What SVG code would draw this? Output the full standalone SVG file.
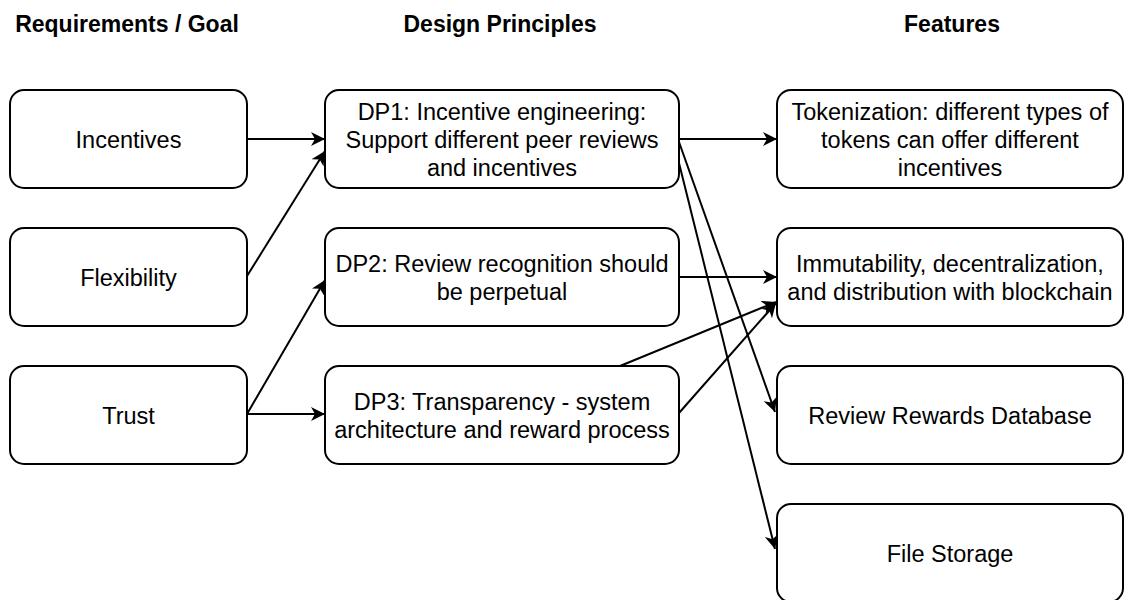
<svg xmlns="http://www.w3.org/2000/svg" width="1125" height="600" viewBox="0 0 1125 600">
<style>
.box{fill:#fff;stroke:#000;stroke-width:2}
.t{font-family:"Liberation Sans",Arial,sans-serif;font-size:23.5px;fill:#000;text-anchor:middle}
.h{font-family:"Liberation Sans",Arial,sans-serif;font-size:23px;font-weight:bold;fill:#000;text-anchor:middle}
.e{fill:none;stroke:#000;stroke-width:2;marker-end:url(#arr)}
</style>
<defs>
<marker id="arr" markerUnits="userSpaceOnUse" markerWidth="16" markerHeight="16" refX="14" refY="7" orient="auto" viewBox="0 0 16 16">
<path d="M0,0 L14,7 L0,14 L4,7 Z" fill="#000"/>
</marker>
</defs>
<rect width="1125" height="600" fill="#fff"/>
<g id="headings">
<text class="h" x="127" y="32">Requirements / Goal</text>
<text class="h" x="500" y="32">Design Principles</text>
<text class="h" x="952" y="32">Features</text>
</g>
<g id="edges">
<path class="e" d="M247,139 L325,139"/>
<path class="e" d="M247,276 L325,151"/>
<path class="e" d="M247,414 L325,280"/>
<path class="e" d="M247,414 L325,414"/>
<path class="e" d="M679,139 L777,139"/>
<path class="e" d="M679,142 L775,412"/>
<path class="e" d="M679,163 L775,549"/>
<path class="e" d="M679,277 L777,277"/>
<path class="e" d="M620,366 L776,302"/>
<path class="e" d="M679,413 L776,303"/>
</g>
<g id="incentives"><rect class="box" x="10" y="90" width="237" height="98" rx="14"/><text class="t" x="128.5" y="147.5">Incentives</text></g>
<g id="flexibility"><rect class="box" x="10" y="228" width="237" height="98" rx="14"/><text class="t" x="128.5" y="285.5">Flexibility</text></g>
<g id="trust"><rect class="box" x="10" y="366" width="237" height="98" rx="14"/><text class="t" x="128.5" y="423.5">Trust</text></g>
<g id="dp1"><rect class="box" x="325" y="90" width="354" height="98" rx="14"/><text class="t" x="502" y="120">DP1: Incentive engineering:</text><text class="t" x="502" y="148">Support different peer reviews</text><text class="t" x="502" y="176">and incentives</text></g>
<g id="dp2"><rect class="box" x="325" y="228" width="354" height="98" rx="14"/><text class="t" x="502" y="271.5">DP2: Review recognition should</text><text class="t" x="502" y="299.5">be perpetual</text></g>
<g id="dp3"><rect class="box" x="325" y="366" width="354" height="98" rx="14"/><text class="t" x="502" y="409.5">DP3: Transparency - system</text><text class="t" x="502" y="437.5">architecture and reward process</text></g>
<g id="tokenization"><rect class="box" x="777" y="90" width="346" height="98" rx="14"/><text class="t" x="950" y="120">Tokenization: different types of</text><text class="t" x="950" y="148">tokens can offer different</text><text class="t" x="950" y="176">incentives</text></g>
<g id="immutability"><rect class="box" x="777" y="228" width="346" height="98" rx="14"/><text class="t" x="950" y="271.5">Immutability, decentralization,</text><text class="t" x="950" y="299.5">and distribution with blockchain</text></g>
<g id="rewards-db"><rect class="box" x="777" y="366" width="346" height="98" rx="14"/><text class="t" x="950" y="423.5">Review Rewards Database</text></g>
<g id="file-storage"><rect class="box" x="777" y="504" width="346" height="98" rx="14"/><text class="t" x="950" y="561.5">File Storage</text></g>
</svg>
